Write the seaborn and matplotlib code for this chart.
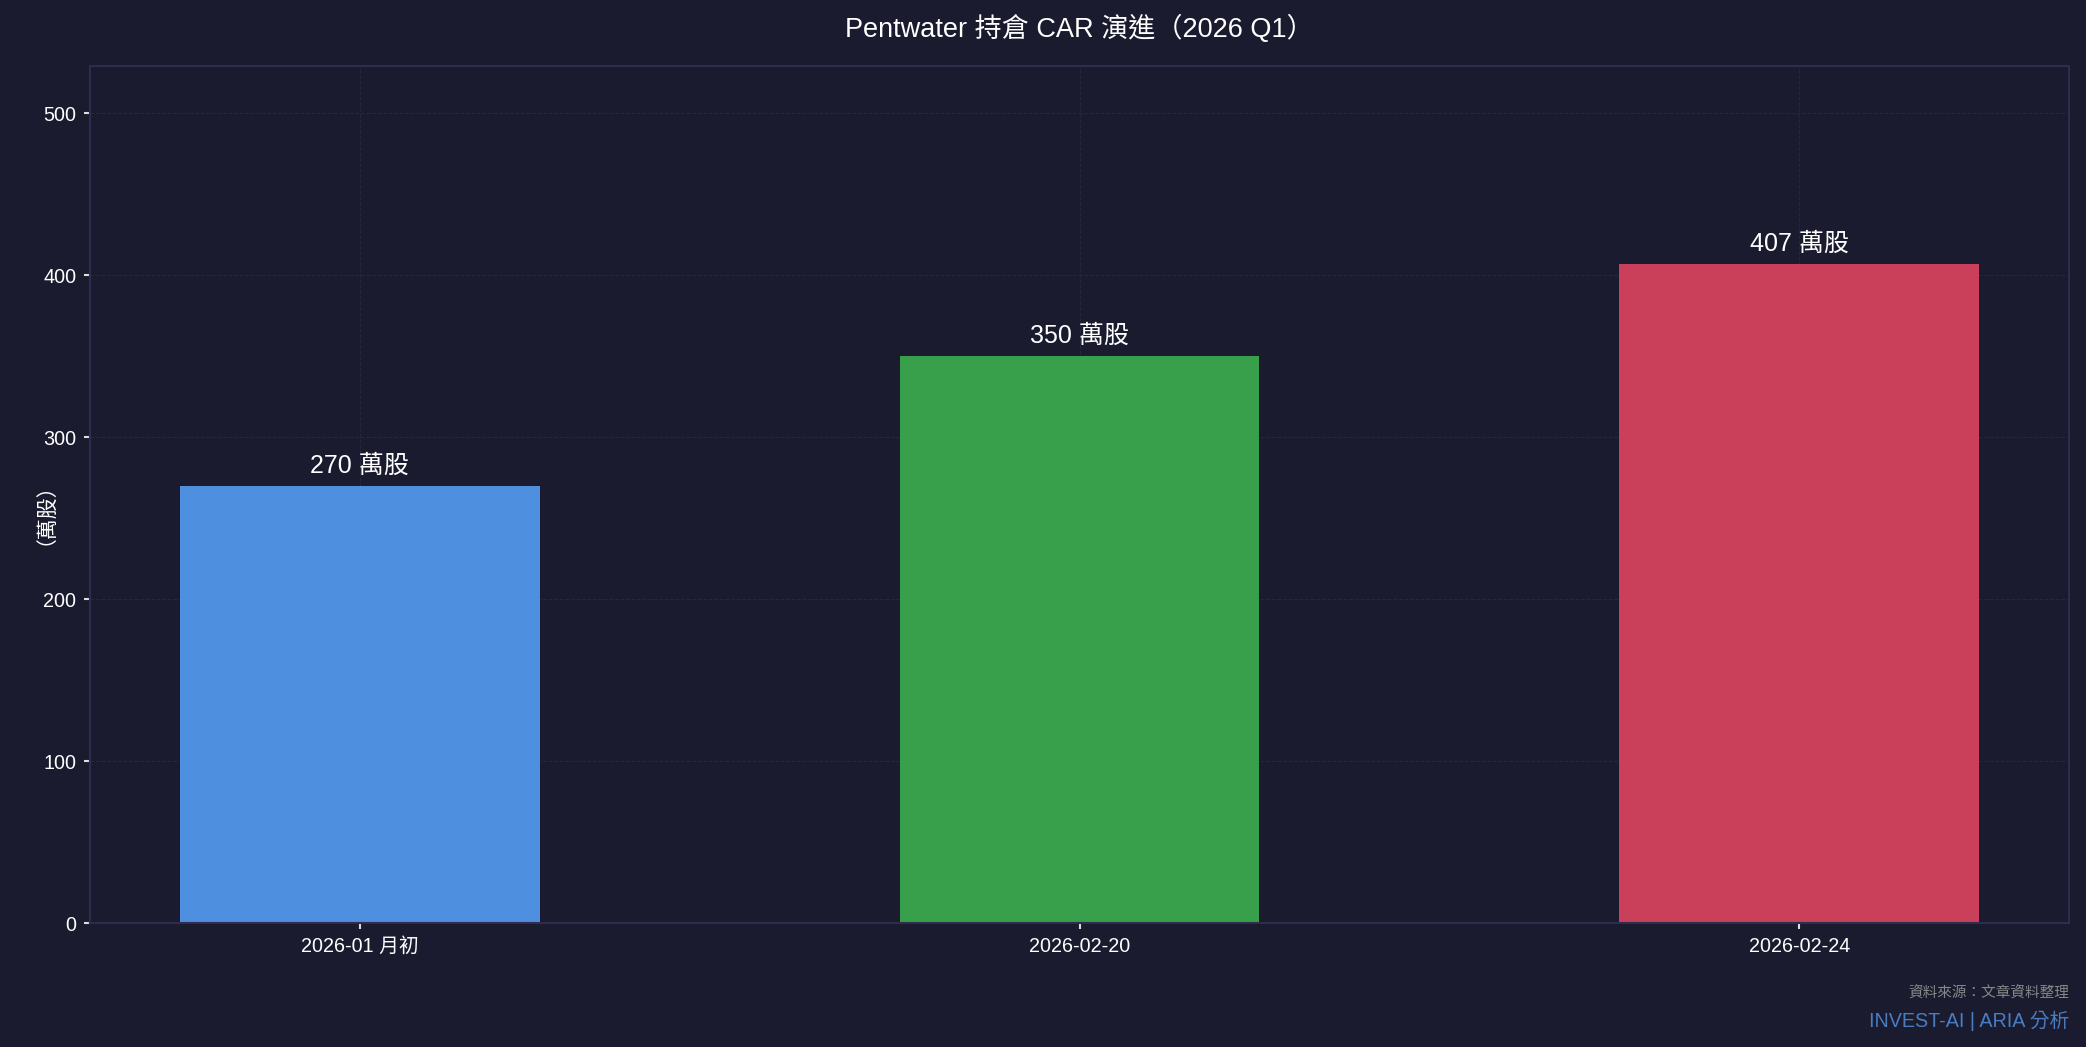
import matplotlib
matplotlib.use("Agg")
import matplotlib.pyplot as plt
import seaborn as sns

dates = ["2026-01 月初", "2026-02-20", "2026-02-24"]
shares = [270, 350, 407]
bar_colors = ["#4F8FDF", "#38A04A", "#CA3F5A"]
unit = "萬股"

sns.set_theme(style="dark")
plt.rcParams["font.family"] = ["Liberation Sans", "Noto Sans CJK TC", "DejaVu Sans"]

bg = "#1A1B2E"
fig = plt.figure(figsize=(2086 / 150, 1047 / 150), dpi=150, facecolor=bg)
ax = fig.add_axes([0.0431, 0.1184, 0.9488, 0.8186])
ax.set_facecolor(bg)

sns.barplot(x=dates, y=shares, hue=dates, palette=bar_colors, width=0.5,
            saturation=1, legend=False, linewidth=0, edgecolor="none", ax=ax)

ax.set_xlim(-0.375, 2.375)
ax.set_ylim(0, max(shares) * 1.3)
ax.set_yticks([0, 100, 200, 300, 400, 500])
ax.grid(True, color="#26273C", linestyle="--", linewidth=0.5)
ax.set_axisbelow(True)
for s in ax.spines.values():
    s.set_color("#2D2D50")
    s.set_linewidth(1.0)

ax.tick_params(colors="#DDDDDD", labelsize=9.5, length=3, width=1, left=True, bottom=True)
for lab in ax.get_xticklabels() + ax.get_yticklabels():
    lab.set_color("white")

for i, v in enumerate(shares):
    ax.annotate(f"{v} {unit}", (i, v), xytext=(0, 4), textcoords="offset points",
                ha="center", va="bottom", color="white", fontsize=12)

ax.set_xlabel("")
ax.set_ylabel("（萬股）", color="white", fontsize=10)
ax.yaxis.set_label_coords(-0.0227, 0.49)
ax.set_title("Pentwater 持倉 CAR 演進（2026 Q1）", color="white", fontsize=13, pad=14)

fig.text(0.992, 0.051, "資料來源：文章資料整理", ha="right", va="center", color="#888888", fontsize=7)
fig.text(0.992, 0.025, "INVEST-AI | ARIA 分析", ha="right", va="center", color="#4A7CC0", fontsize=9.5)

fig.savefig("out.png", dpi=150, facecolor=bg)
